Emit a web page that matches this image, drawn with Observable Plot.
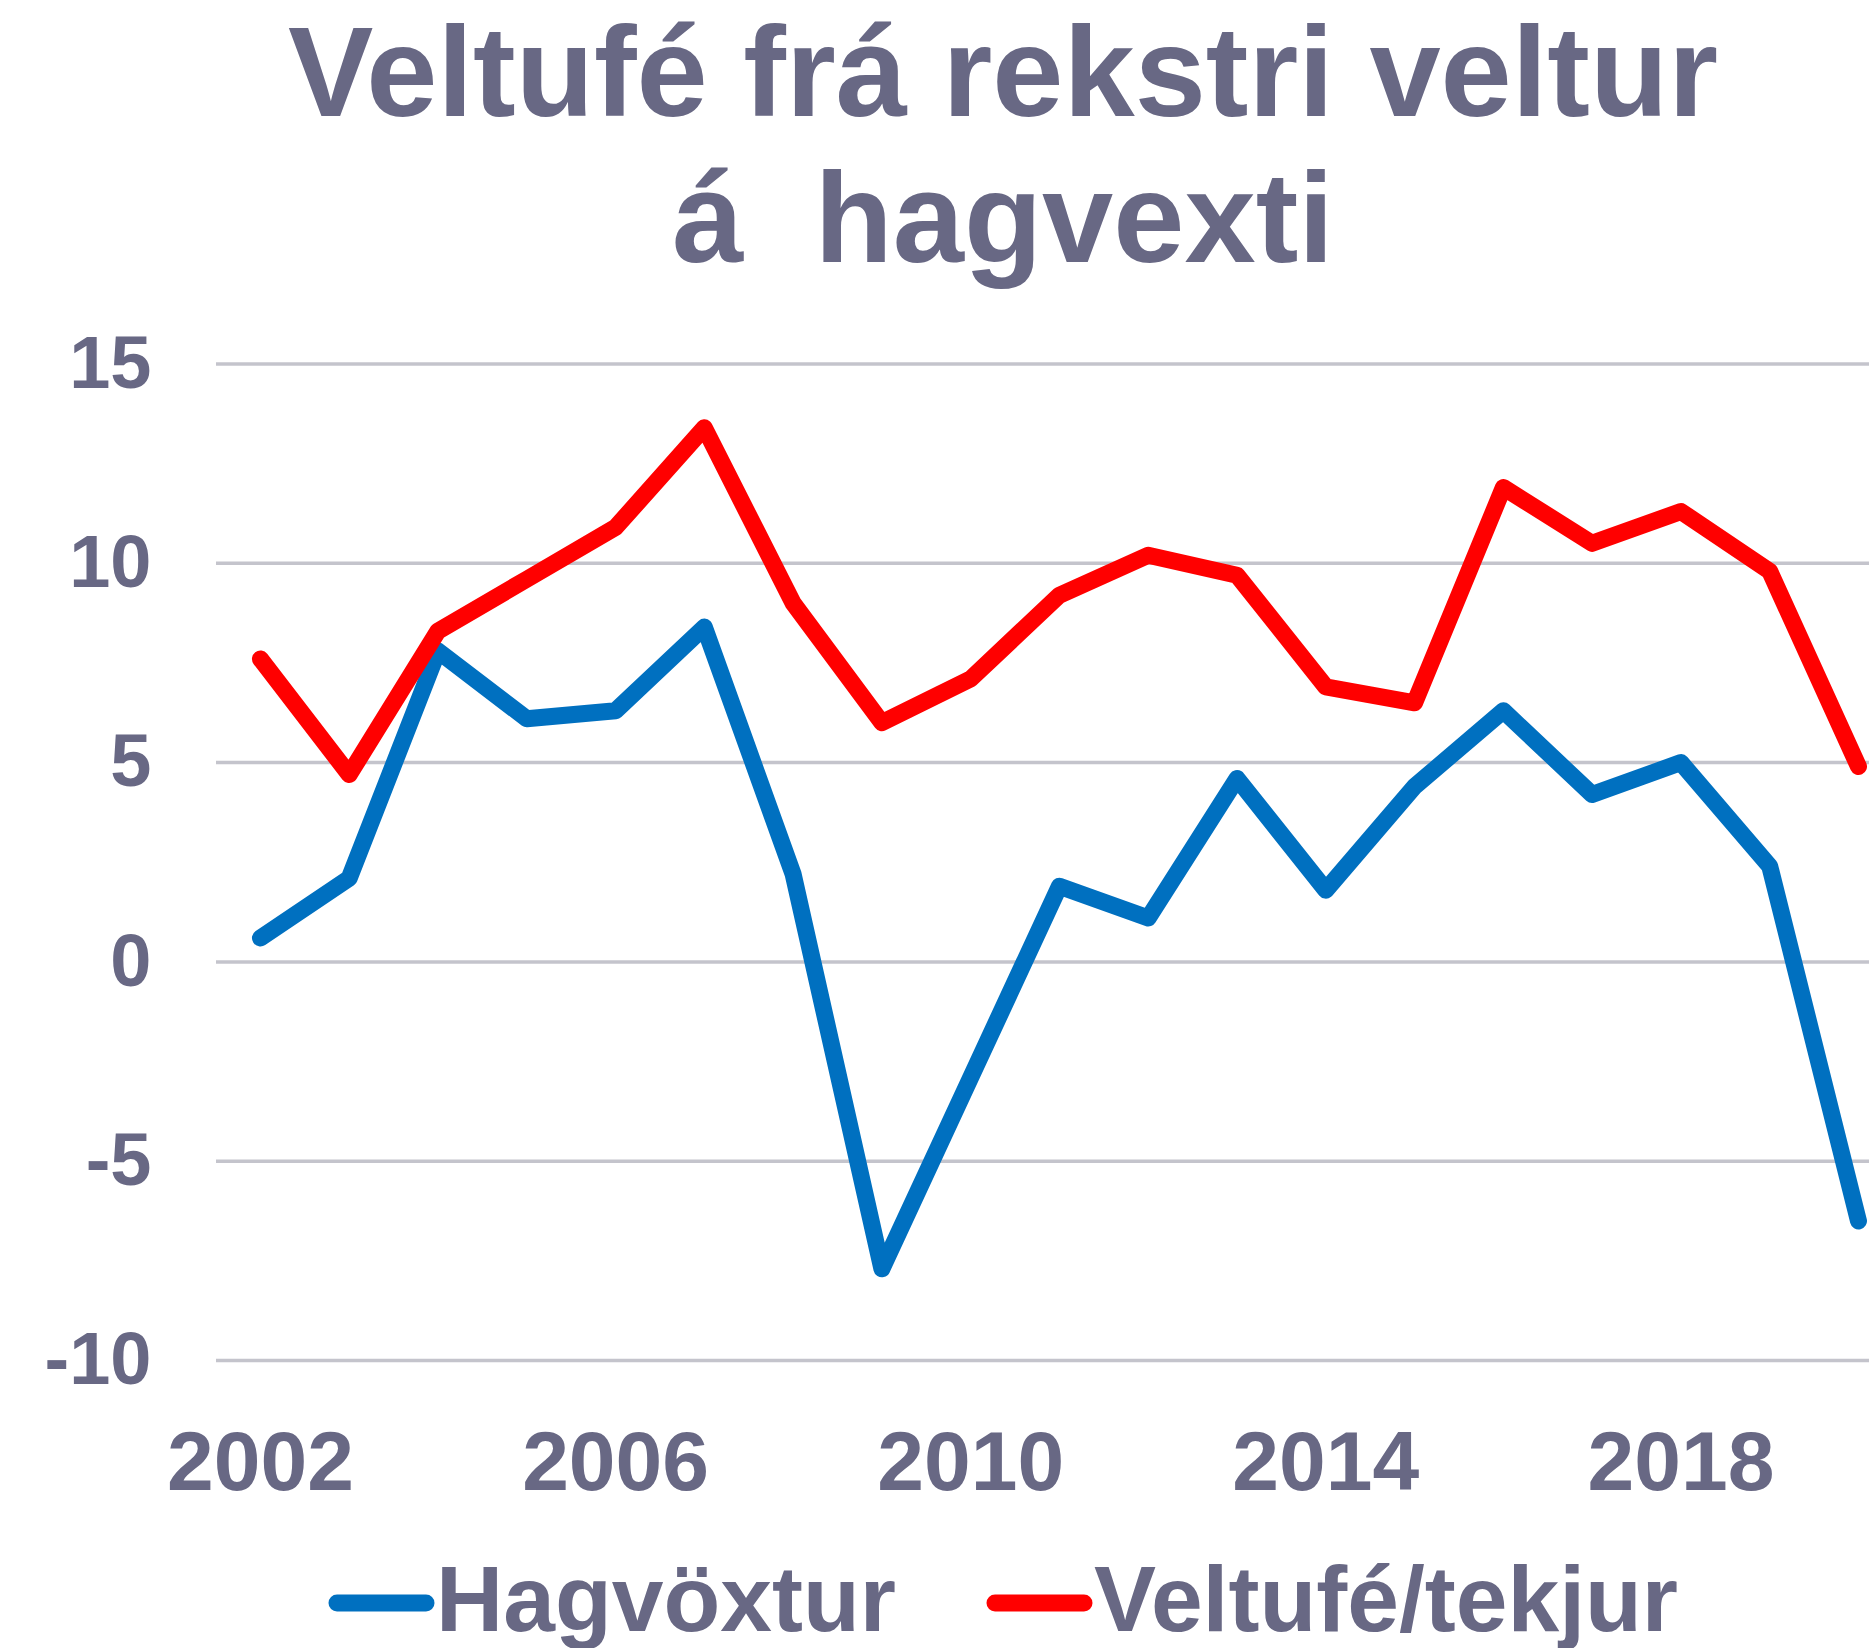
<!DOCTYPE html>
<html>
<head>
<meta charset="utf-8">
<script src="https://cdn.jsdelivr.net/npm/d3@7"></script>
<script src="https://cdn.jsdelivr.net/npm/@observablehq/plot@0.6"></script>
<style>
  html, body { margin: 0; padding: 0; background: #ffffff; }
  body { width: 1869px; height: 1648px; position: relative; overflow: hidden;
         font-family: "Liberation Sans", Arial, Helvetica, sans-serif; font-weight: bold; color: #686884; }
  #title { position: absolute; left: 0; top: -1px; width: 2006px; text-align: center;
           font-size: 128px; line-height: 146px; white-space: pre; }
  #chart { position: absolute; left: 0; top: 290px; }
  .leg-line { position: absolute; }
  .leg-text { position: absolute; font-size: 93px; line-height: 93px; white-space: pre; }
</style>
</head>
<body>
<div id="title">Veltufé frá rekstri veltur
á  hagvexti</div>
<div id="chart"></div>
<svg class="leg-line" style="left:320px; top:1587px" width="124" height="32"><line x1="17" y1="16" x2="106" y2="16" stroke="#0070c0" stroke-width="17" stroke-linecap="round"/></svg>
<div class="leg-text" style="left:436px; top:1553px">Hagvöxtur</div>
<svg class="leg-line" style="left:978px; top:1587px" width="124" height="32"><line x1="17" y1="16" x2="106" y2="16" stroke="#ff0000" stroke-width="17" stroke-linecap="round"/></svg>
<div class="leg-text" style="left:1094px; top:1553px">Veltufé/tekjur</div>
<script>
const years = [2002, 2003, 2004, 2005, 2006, 2007, 2008, 2009, 2010, 2011, 2012, 2013, 2014, 2015, 2016, 2017, 2018, 2019, 2020];
const hagvoxtur = [0.6, 2.1, 7.8, 6.1, 6.3, 8.4, 2.2, -7.7, -2.9, 1.9, 1.1, 4.6, 1.8, 4.4, 6.3, 4.2, 5.0, 2.4, -6.5];
const veltufeTekjur = [7.6, 4.7, 8.3, 9.6, 10.9, 13.4, 9.0, 6.0, 7.1, 9.2, 10.2, 9.7, 6.9, 6.5, 11.9, 10.5, 11.3, 9.8, 4.9];
const seriesNames = ["Hagvöxtur", "Veltufé/tekjur"];
const seriesColors = ["#0070c0", "#ff0000"];
const xTicks = [2002, 2006, 2010, 2014, 2018];
const yTicks = [-10, -5, 0, 5, 10, 15];

const rows = [];
years.forEach((yr, i) => rows.push({ year: yr, value: hagvoxtur[i], series: seriesNames[0] }));
years.forEach((yr, i) => rows.push({ year: yr, value: veltufeTekjur[i], series: seriesNames[1] }));

const chart = Plot.plot({
  width: 1869,
  height: 1240,
  marginLeft: 216,
  marginRight: 0,
  marginTop: 73.5,
  marginBottom: 170,
  style: { fontFamily: "'Liberation Sans', Arial, Helvetica, sans-serif", fontWeight: "bold", color: "#686884", background: "#ffffff", overflow: "visible" },
  x: { domain: [2001.505, 2020.124], label: null },
  y: { domain: [-10, 15], label: null },
  color: { domain: seriesNames, range: seriesColors },
  marks: [
    Plot.ruleY(yTicks, { stroke: "#c4c4cc", strokeWidth: 3.5 }),
    Plot.axisY(yTicks, { tickSize: 0, tickPadding: 65, fontSize: 74, tickFormat: d => String(d), label: null }),
    Plot.axisX(xTicks, { tickSize: 0, tickPadding: 70, fontSize: 84, tickFormat: d => String(d), label: null }),
    Plot.lineY(rows, { x: "year", y: "value", z: "series", stroke: "series", strokeWidth: 17, strokeLinejoin: "round", strokeLinecap: "round" })
  ]
});
document.getElementById("chart").appendChild(chart);
</script>
</body>
</html>
